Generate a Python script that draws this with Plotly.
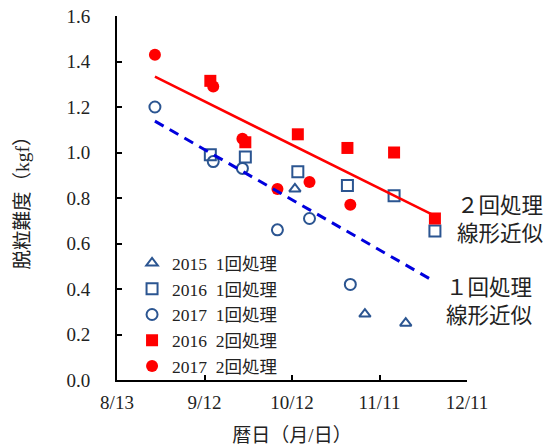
import plotly.graph_objects as go

# ---- data (calendar day of treatment, MM/DD) ----
tick_labels = ["8/13", "9/12", "10/12", "11/11", "12/11"]
tick_dates = ["08/13", "09/12", "10/12", "11/11", "12/11"]

d2015_1_dates = ["10/13", "11/06", "11/20"]
d2015_1_vals = [0.84, 0.29, 0.25]

d2016_1_dates = ["09/14", "09/26", "10/14", "10/31", "11/16", "11/30"]
d2016_1_vals = [0.99, 0.98, 0.915, 0.855, 0.81, 0.655]

d2017_1_dates = ["08/26", "09/15", "09/25", "10/07", "10/18", "11/01"]
d2017_1_vals = [1.20, 0.96, 0.93, 0.66, 0.71, 0.42]

d2016_2_dates = ["09/14", "09/26", "10/14", "10/31", "11/16", "11/30"]
d2016_2_vals = [1.315, 1.045, 1.08, 1.02, 1.00, 0.71]

d2017_2_dates = ["08/26", "09/15", "09/25", "10/07", "10/18", "11/01"]
d2017_2_vals = [1.43, 1.29, 1.06, 0.84, 0.87, 0.77]

trend2_dates = ["08/26", "11/30"]
trend2_vals = [1.333, 0.721]
trend1_dates = ["08/26", "11/30"]
trend1_vals = [1.138, 0.432]

names = ["2015\u20021回処理", "2016\u20021回処理", "2017\u20021回処理",
         "2016\u20022回処理", "2017\u20022回処理"]


def to_date(md):
    m, d = md.split("/")
    return f"2017-{int(m):02d}-{int(d):02d}"


def conv(lst):
    return [to_date(s) for s in lst]


BLUE = "#2B5591"
RED = "#FF0000"
DASHBLUE = "#0000DD"
TXT = "#222222"
FONT = "Liberation Serif, Noto Sans CJK JP, serif"

fig = go.Figure()

fig.add_trace(go.Scatter(x=conv(d2015_1_dates), y=d2015_1_vals, mode="markers", name=names[0],
                         marker=dict(symbol="triangle-up-open", size=10, color=BLUE,
                                     line=dict(width=2, color=BLUE))))
fig.add_trace(go.Scatter(x=conv(d2016_1_dates), y=d2016_1_vals, mode="markers", name=names[1],
                         marker=dict(symbol="square-open", size=11, color=BLUE,
                                     line=dict(width=2, color=BLUE))))
fig.add_trace(go.Scatter(x=conv(d2017_1_dates), y=d2017_1_vals, mode="markers", name=names[2],
                         marker=dict(symbol="circle-open", size=11, color=BLUE,
                                     line=dict(width=2, color=BLUE))))
fig.add_trace(go.Scatter(x=conv(d2016_2_dates), y=d2016_2_vals, mode="markers", name=names[3],
                         marker=dict(symbol="square", size=12, color=RED)))
fig.add_trace(go.Scatter(x=conv(d2017_2_dates), y=d2017_2_vals, mode="markers", name=names[4],
                         marker=dict(symbol="circle", size=12, color=RED)))

fig.add_trace(go.Scatter(x=conv(trend2_dates), y=trend2_vals, mode="lines", showlegend=False,
                         line=dict(color=RED, width=2.5)))
fig.add_trace(go.Scatter(x=conv(trend1_dates), y=trend1_vals, mode="lines", showlegend=False,
                         line=dict(color=DASHBLUE, width=3, dash="10px,7px")))

fig.update_layout(
    width=544, height=446,
    margin=dict(l=117, r=77, t=16, b=66, autoexpand=False),
    paper_bgcolor="white", plot_bgcolor="white",
    font=dict(family=FONT, size=19, color=TXT),
    showlegend=True,
    legend=dict(x=0.043, y=0.3705, xanchor="left", yanchor="top",
                bgcolor="rgba(0,0,0,0)", borderwidth=0,
                font=dict(family=FONT, size=17.5, color=TXT),
                itemwidth=30, tracegroupgap=0),
    xaxis=dict(
        type="date", automargin=False,
        range=[to_date("08/13"), to_date("12/11")],
        tickvals=conv(tick_dates), ticktext=tick_labels,
        showgrid=False, zeroline=False,
        showline=True, linecolor="black", linewidth=2,
        ticks="inside", ticklen=5, tickwidth=1.5, tickcolor="black",
        ticklabelstandoff=4, ticklabeloverflow="allow",
        tickfont=dict(family=FONT, size=19, color=TXT),
        title=dict(text="暦日（月/日）", font=dict(family=FONT, size=19, color=TXT), standoff=21),
    ),
    yaxis=dict(
        automargin=False,
        range=[0, 1.6], tickvals=[0, 0.2, 0.4, 0.6, 0.8, 1.0, 1.2, 1.4, 1.6],
        tickformat=".1f",
        showgrid=False, zeroline=False,
        showline=True, linecolor="black", linewidth=2,
        ticks="inside", ticklen=5, tickwidth=1.5, tickcolor="black",
        ticklabelstandoff=21, ticklabeloverflow="allow",
        tickfont=dict(family=FONT, size=19, color=TXT),
        title=dict(text="脱粒難度（kgf）", font=dict(family=FONT, size=19.5, color=TXT), standoff=32),
    ),
    annotations=[
        dict(text="２回処理<br>線形近似", xref="paper", yref="paper", x=0.966, y=0.4395,
             xanchor="left", yanchor="middle", align="left", showarrow=False,
             font=dict(family=FONT, size=21.5, color=TXT)),
        dict(text="１回処理<br>線形近似", xref="paper", yref="paper", x=0.934, y=0.2153,
             xanchor="left", yanchor="middle", align="left", showarrow=False,
             font=dict(family=FONT, size=21.5, color=TXT)),
    ],
)

# remove the default 8px page margin so the figure fills the window exactly
fig.write_html("out.html", config={"displayModeBar": False},
               post_script="document.body.style.margin='0';")
